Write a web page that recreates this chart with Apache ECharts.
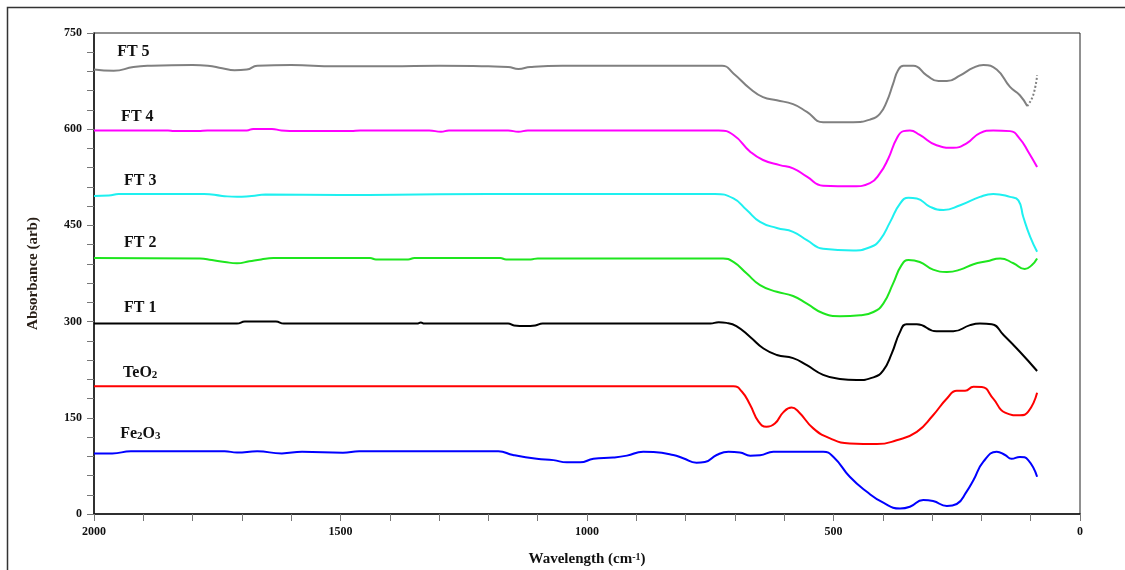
<!DOCTYPE html>
<html>
<head>
<meta charset="utf-8">
<script src="https://cdn.jsdelivr.net/npm/echarts@6/dist/echarts.min.js"></script>
<style>
  html, body { margin: 0; padding: 0; background: #fff; }
  #myChart { width: 1125px; height: 570px; }
</style>
</head>
<body>
<div id="myChart"></div>
<script>
// spectra, [wavenumber cm-1, absorbance]
var ft5 = [[2000,693],[1960,691],[1920,697],[1884,699],[1800,700],[1769,699],[1740,695],[1715,692],[1690,693],[1669,699],[1600,700],[1511,698],[1400,698],[1300,699],[1200,698],[1160,697],[1139,694],[1115,697],[1050,699],[900,699],[800,699],[726,699],[703,687],[669,663],[643,650],[615,645],[582,639],[554,627],[521,611],[460,611],[426,615],[406,624],[392,643],[379,671],[369,692],[358,699],[338,699],[311,684],[287,675],[270,675],[243,684],[216,696],[196,700],[169,693],[142,666],[122,653],[107,636]];
var ft5Tail = [[107,636],[95,653],[87,684]];
var ft4 = [[2000,598],[1850,598],[1838,597],[1789,597],[1770,598],[1690,598],[1677,600.5],[1639,600.5],[1620,598],[1586,597],[1479,597],[1460,598],[1320,598],[1296,596],[1280,598],[1160,598],[1139,596],[1120,598],[800,598],[733,598],[703,591],[669,565],[643,552],[609,544],[582,539],[554,526],[521,512],[460,511],[426,516],[406,531],[389,554],[372,585],[358,597],[345,598],[325,591],[291,575],[257,571],[230,578],[203,594],[176,598],[142,597],[122,585],[105,565],[87,541]];
var ft3 = [[2000,496],[1970,496.5],[1950,499],[1777,499],[1740,496],[1710,494.5],[1680,496],[1652,498],[1500,497.5],[1300,498.5],[1100,499],[741,499],[703,492],[676,474],[649,455.5],[615,446],[582,440],[554,427],[521,413.5],[460,411],[426,416],[406,427],[385,455.5],[365,484],[348,493],[331,492],[304,479],[277,474],[243,481.5],[203,494.5],[176,499],[142,494.5],[125,489],[115,463],[101,432],[87,409]];
var ft2 = [[2000,399],[1785,398.5],[1761,396],[1735,393],[1710,391],[1685,394],[1661,397],[1636,399],[1440,399],[1428,397],[1363,397],[1350,399],[1176,399],[1164,397],[1114,397],[1100,398.5],[724,398.5],[703,393],[676,375],[649,357],[615,346.5],[582,340],[554,328],[521,313],[487,308.5],[446,310],[419,315],[399,328],[379,359.5],[362,388],[348,396],[325,393],[298,381],[270,377.5],[243,381],[216,389.5],[189,394],[162,398.5],[135,391],[112,382],[98,388],[87,398.5]];
var ft1 = [[2000,297],[1710,297],[1694,300],[1631,300],[1615,297],[1345,297],[1337,298.5],[1330,297],[1160,297],[1148,294],[1125,293],[1105,294],[1090,297],[750,297],[733,299],[717,298],[697,293],[669,276],[642,258],[615,248],[582,243],[554,232],[521,217],[487,210.5],[453,209],[419,213],[399,224],[382,250],[365,284],[352,296],[331,296],[291,285],[257,285],[223,294.5],[203,297],[179,296],[155,279],[122,253],[87,223]];
var teo2 = [[2000,199],[703,199],[686,191],[669,170],[652,144],[636,136],[619,141],[602,158.5],[585,166],[571,159.5],[541,133.5],[507,118],[467,110],[412,109],[372,115],[331,128],[298,154],[270,180],[250,192],[233,192],[216,198.5],[199,198],[176,180],[152,158],[122,154],[105,159.5],[87,189]];
var fe2o3 = [[2000,94.5],[1963,94.5],[1925,97.7],[1735,97.7],[1710,96],[1669,97.7],[1619,94.5],[1578,97],[1495,95.5],[1462,97.7],[1180,97.7],[1150,92],[1102,86],[1068,84],[1041,80.5],[1014,80.5],[987,86],[947,88],[919,91],[886,97],[865,96.5],[825,92],[805,87],[778,80],[761,81],[737,92],[713,97],[690,96],[669,91],[649,91.5],[622,97],[521,97],[500,89],[467,58],[433,35],[399,17.6],[365,8.5],[345,11.4],[318,22],[298,20.3],[270,12.5],[250,15.6],[230,35],[216,53],[196,81.5],[169,97],[152,92],[139,86],[122,89],[105,84],[87,58]];

// curve names and where they are written, in data units
var labelTexts = ['FT 5', 'FT 4', 'FT 3', 'FT 2', 'FT 1', '{b|TeO}{s|2}', '{b|Fe}{s|2}{b|O}{s|3}'];
var labelAt = [[1953,720],[1945,619],[1939,520],[1939,422],[1939,321],[1941,220],[1947,125]];

var serif = '"Liberation Serif", "Times New Roman", serif';

function line(data, color, dotted) {
    return {
        type: 'line',
        data: data,
        showSymbol: false,
        smooth: 0.5,
        silent: true,
        lineStyle: { color: color, width: 2, type: dotted ? 'dotted' : 'solid' }
    };
}

var c = document.getElementById('myChart');
var myChart = echarts.init(c, null, { renderer: 'canvas' });

myChart.setOption({
    animation: false,
    backgroundColor: '#fff',
    grid: {
        left: 94, right: 45, top: 33, bottom: 56,
        outerBoundsMode: 'none',
        show: true,
        borderColor: '#222',
        borderWidth: 1
    },
    xAxis: {
        type: 'value',
        inverse: true,
        min: 0, max: 2000, interval: 500,
        name: 'Wavelength (cm{sup|-1})',
        nameLocation: 'middle',
        nameGap: 38,
        nameTextStyle: {
            fontFamily: serif, fontWeight: 'bold', fontSize: 15, color: '#111',
            rich: { sup: { fontFamily: serif, fontWeight: 'bold', fontSize: 10, color: '#111', verticalAlign: 'top' } }
        },
        axisLine: { show: true, onZero: false, lineStyle: { color: '#111', width: 1.5 } },
        axisTick: { show: true, length: 7, lineStyle: { color: '#777' } },
        minorTick: { show: true, splitNumber: 5, length: 7, lineStyle: { color: '#777' } },
        splitLine: { show: false },
        axisLabel: {
            fontFamily: serif, fontWeight: 'bold', fontSize: 12, color: '#111', margin: 12,
            formatter: function (v) { return String(v); }
        }
    },
    yAxis: {
        type: 'value',
        min: 0, max: 750, interval: 150,
        name: 'Absorbance (arb)',
        nameLocation: 'middle',
        nameGap: 53,
        nameTextStyle: { fontFamily: serif, fontWeight: 'bold', fontSize: 15, color: '#2a2018' },
        axisLine: { show: true, onZero: false, lineStyle: { color: '#111', width: 1.5 } },
        axisTick: { show: true, length: 7, lineStyle: { color: '#777' } },
        minorTick: { show: true, splitNumber: 5, length: 7, lineStyle: { color: '#777' } },
        splitLine: { show: false },
        axisLabel: {
            fontFamily: serif, fontWeight: 'bold', fontSize: 12, color: '#111', margin: 12,
            formatter: function (v) { return String(v); }
        }
    },
    series: [
        line(ft5, '#808080'),
        line(ft5Tail, '#808080', true),
        line(ft4, '#ff00ff'),
        line(ft3, '#1ef0f0'),
        line(ft2, '#1ee61e'),
        line(ft1, '#000000'),
        line(teo2, '#ff0000'),
        line(fe2o3, '#0000ff')
    ]
});

// outer frame and curve names
var graphics = [{
    type: 'rect',
    shape: { x: 7.5, y: 7.5, width: 1200, height: 700 },
    style: { fill: 'none', stroke: '#333', lineWidth: 1.5 },
    silent: true
}];
for (var i = 0; i < labelTexts.length; i++) {
    var p = myChart.convertToPixel({ gridIndex: 0 }, labelAt[i]);
    graphics.push({
        type: 'text',
        x: p[0], y: p[1],
        style: {
            text: labelTexts[i],
            fontFamily: serif, fontWeight: 'bold', fontSize: 16, fill: '#111',
            verticalAlign: 'middle',
            rich: {
                b: { fontFamily: serif, fontWeight: 'bold', fontSize: 16, fill: '#111' },
                s: { fontFamily: serif, fontWeight: 'bold', fontSize: 11, fill: '#111', verticalAlign: 'bottom' }
            }
        },
        silent: true
    });
}
myChart.setOption({ graphic: graphics });
</script>
</body>
</html>
